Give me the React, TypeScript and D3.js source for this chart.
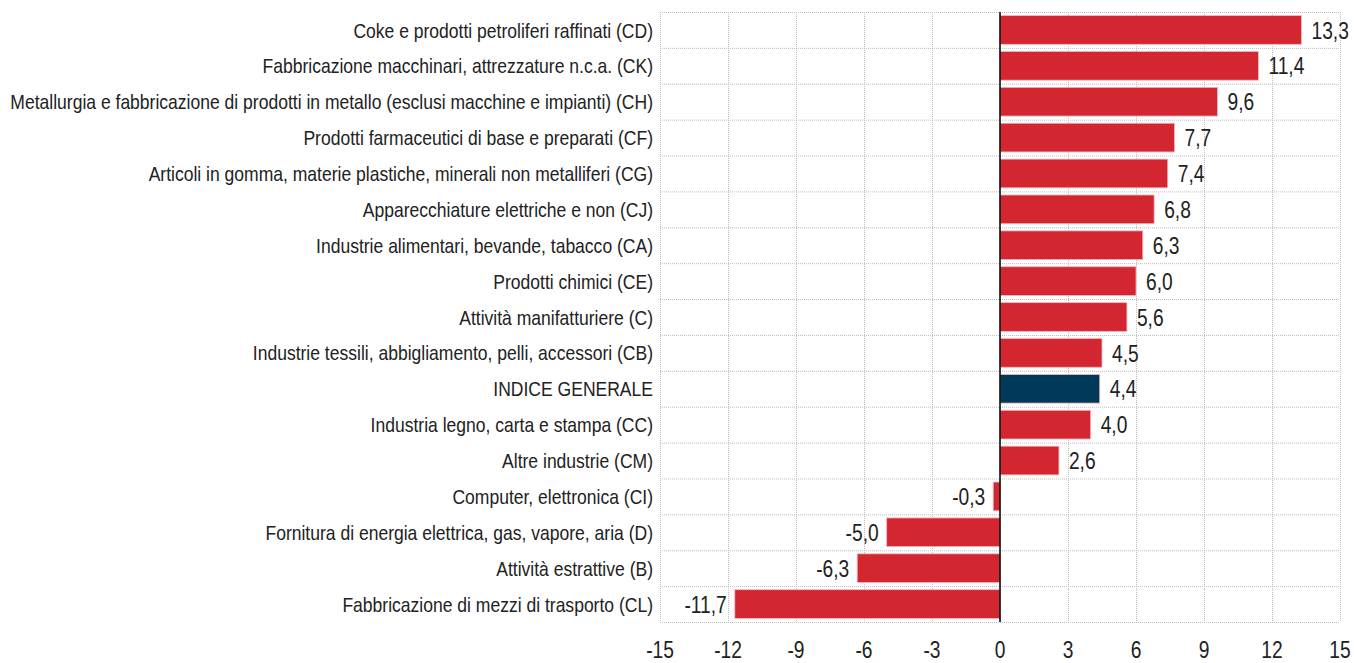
import { useEffect, useRef } from "react";
import * as d3 from "d3";

const categories = [
    "Coke e prodotti petroliferi raffinati (CD)",
    "Fabbricazione macchinari, attrezzature n.c.a. (CK)",
    "Metallurgia e fabbricazione di prodotti in metallo (esclusi macchine e impianti) (CH)",
    "Prodotti farmaceutici di base e preparati (CF)",
    "Articoli in gomma, materie plastiche, minerali non metalliferi (CG)",
    "Apparecchiature elettriche e non (CJ)",
    "Industrie alimentari, bevande, tabacco (CA)",
    "Prodotti chimici (CE)",
    "Attività manifatturiere (C)",
    "Industrie tessili, abbigliamento, pelli, accessori (CB)",
    "INDICE GENERALE",
    "Industria legno, carta e stampa (CC)",
    "Altre industrie (CM)",
    "Computer, elettronica (CI)",
    "Fornitura di energia elettrica, gas, vapore, aria (D)",
    "Attività estrattive (B)",
    "Fabbricazione di mezzi di trasporto (CL)",
];

const values = [13.3, 11.4, 9.6, 7.7, 7.4, 6.8, 6.3, 6.0, 5.6, 4.5, 4.4, 4.0, 2.6, -0.3, -5.0, -6.3, -11.7];

const xTicks = [-15, -12, -9, -6, -3, 0, 3, 6, 9, 12, 15];

const highlight = "INDICE GENERALE";

const W = 1354;
const H = 663;
const FONT = "'Liberation Sans', Arial, sans-serif";

export default function App() {
    const svgRef = useRef<SVGSVGElement | null>(null);

    useEffect(() => {
        document.body.style.margin = "0";
        const svg = d3.select(svgRef.current!);
        svg.selectAll("*").remove();

        const x = d3.scaleLinear().domain([-15, 15]).range([660, 1340]);
        const y = d3.scaleBand<string>().domain(categories).range([12, 622]).paddingInner(0.2).paddingOuter(0.1);
        const step = y.step();
        const top = 12;

        const grid = svg.append("g").attr("stroke", "#bdbdbd").attr("stroke-width", 1).attr("stroke-dasharray", "1,1");
        grid.selectAll("line.v")
            .data(xTicks)
            .join("line")
            .attr("x1", (d) => x(d) + 0.5)
            .attr("x2", (d) => x(d) + 0.5)
            .attr("y1", top)
            .attr("y2", top + step * categories.length);
        grid.selectAll("line.h")
            .data(d3.range(categories.length + 1))
            .join("line")
            .attr("x1", x(-15))
            .attr("x2", x(15))
            .attr("y1", (i) => top + i * step + 0.5)
            .attr("y2", (i) => top + i * step + 0.5);

        const data = categories.map((c, i) => ({ c, v: values[i] }));

        svg.append("g")
            .selectAll("rect")
            .data(data)
            .join("rect")
            .attr("x", (d) => x(Math.min(0, d.v)))
            .attr("width", (d) => Math.abs(x(d.v) - x(0)))
            .attr("y", (d) => y(d.c)!)
            .attr("height", y.bandwidth())
            .attr("fill", (d) => (d.c === highlight ? "#003a5a" : "#d32631"))
            .attr("stroke", "#f3b8bc")
            .attr("stroke-width", 0.8);

        svg.append("line")
            .attr("x1", x(0))
            .attr("x2", x(0))
            .attr("y1", top)
            .attr("y2", top + step * categories.length)
            .attr("stroke", "#000")
            .attr("stroke-width", 1.5);

        const fmt = (v: number) => v.toFixed(1).replace(".", ",");

        // narrow text: regular sans squeezed horizontally
        svg.append("g")
            .selectAll("text")
            .data(data)
            .join("text")
            .attr("transform", (d) => {
                const tx = d.v >= 0 ? x(d.v) + 10 : x(d.v) - 8;
                return `translate(${tx},${y(d.c)! + y.bandwidth() / 2}) scale(0.8,1)`;
            })
            .attr("dy", "0.36em")
            .attr("text-anchor", (d) => (d.v >= 0 ? "start" : "end"))
            .attr("font-family", FONT)
            .attr("font-size", 24)
            .attr("fill", "#222")
            .text((d) => fmt(d.v));

        svg.append("g")
            .selectAll("text")
            .data(categories)
            .join("text")
            .attr("transform", (d) => `translate(653,${y(d)! + y.bandwidth() / 2}) scale(0.835,1)`)
            .attr("dy", "0.36em")
            .attr("text-anchor", "end")
            .attr("font-family", FONT)
            .attr("font-size", 21)
            .attr("fill", "#222")
            .text((d) => d);

        svg.append("g")
            .selectAll("text")
            .data(xTicks)
            .join("text")
            .attr("transform", (d) => `translate(${x(d)},649) scale(0.8,1)`)
            .attr("dy", "0.36em")
            .attr("text-anchor", "middle")
            .attr("font-family", FONT)
            .attr("font-size", 24)
            .attr("fill", "#222")
            .text((d) => String(d));
    }, []);

    return <svg ref={svgRef} width={W} height={H} style={{ display: "block", background: "#fff" }} />;
}
